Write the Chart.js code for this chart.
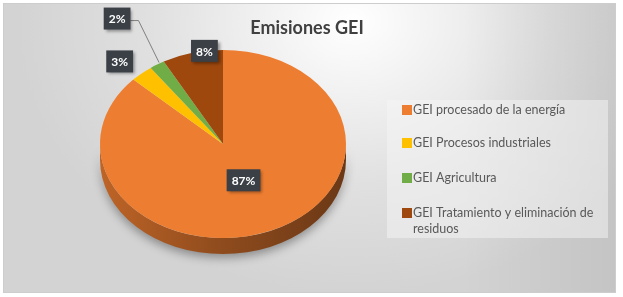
<!DOCTYPE html>
<html>
<head>
<meta charset="utf-8">
<script src="https://cdn.jsdelivr.net/npm/chart.js@4.4.0/dist/chart.umd.min.js"></script>
<style>
  html, body { margin: 0; padding: 0; background: #fff; }
  #marco { position: relative; width: 623px; height: 297px; overflow: hidden; }
  #fondo {
    position: absolute; left: 3px; top: 3px; width: 611px; height: 288px;
    border: 1px solid #cdcdcd;
    background:
      linear-gradient(to right, rgba(0,0,0,0) 75%, rgba(0,0,0,0.07) 100%),
      radial-gradient(ellipse 55% 95% at 57% 6%, #ffffff 0%, #f2f2f2 25%, #e0e0e0 60%, #d3d3d3 100%);
  }
  #grafico { position: absolute; left: 0; top: 0; }
</style>
</head>
<body>
<div id="marco">
  <div id="fondo"></div>
  <canvas id="grafico" width="623" height="297"></canvas>
</div>
<script>
// Datos
const titulo = 'Emisiones GEI';
const categorias = ['GEI procesado de la energía', 'GEI Procesos industriales', 'GEI Agricultura', 'GEI Tratamiento y eliminación de residuos'];
const porcentajes = [87, 3, 2, 8];
const colores = ['#ED7D31', '#FFC000', '#70AD47', '#9E480E'];

// Aspecto 3D
const inclinacion = 0.765;
const profundidad = 16;

// Ubicación de etiquetas: factor radial, ajuste x, ajuste y, línea guía
const ubicacionEtiquetas = [[0.42, 0, 0, false], [1, -22, -12, false], [1, -40, -46, true], [1, 12, -2, false]];

function oscurecer(hex, f) {
    const n = parseInt(hex.slice(1), 16);
    const r = Math.round(((n >> 16) & 255) * f);
    const g = Math.round(((n >> 8) & 255) * f);
    const b = Math.round((n & 255) * f);
    return 'rgb(' + r + ',' + g + ',' + b + ')';
}

function geometria(chart) {
    const arc = chart.getDatasetMeta(0).data[0];
    return { cx: arc.x, cy: arc.y, rx: arc.outerRadius, ry: arc.outerRadius * inclinacion };
}

const pastel3d = {
    id: 'pastel3d',
    beforeDatasetsDraw(chart) {
        // Lateral del pastel (solo la mitad frontal)
        const ctx = chart.ctx;
        const g = geometria(chart);
        chart.getDatasetMeta(0).data.forEach((arc, i) => {
            [-2, 0, 2].forEach(k => {
                const a = Math.max(arc.startAngle, k * Math.PI);
                const b = Math.min(arc.endAngle, k * Math.PI + Math.PI);
                if (b <= a) return;
                ctx.save();
                const grad = ctx.createLinearGradient(g.cx - g.rx, 0, g.cx + g.rx, 0);
                grad.addColorStop(0, oscurecer(colores[i], 0.8));
                grad.addColorStop(0.5, oscurecer(colores[i], 0.6));
                grad.addColorStop(1, oscurecer(colores[i], 0.45));
                ctx.fillStyle = grad;
                ctx.shadowColor = 'rgba(0,0,0,0.35)';
                ctx.shadowBlur = 10;
                ctx.shadowOffsetY = 4;
                ctx.beginPath();
                ctx.ellipse(g.cx, g.cy, g.rx, g.ry, 0, a, b);
                ctx.ellipse(g.cx, g.cy + profundidad, g.rx, g.ry, 0, b, a, true);
                ctx.closePath();
                ctx.fill();
                ctx.restore();
            });
        });
    },
    beforeDatasetDraw(chart) {
        const ctx = chart.ctx;
        const g = geometria(chart);
        ctx.save();
        ctx.translate(g.cx, g.cy);
        ctx.scale(1, inclinacion);
        ctx.translate(-g.cx, -g.cy);
    },
    afterDatasetDraw(chart) {
        chart.ctx.restore();
    },
    afterDatasetsDraw(chart) {
        // Etiquetas de porcentaje
        const ctx = chart.ctx;
        const g = geometria(chart);
        ctx.save();
        ctx.font = 'bold 12px Lato';
        ctx.textAlign = 'center';
        ctx.textBaseline = 'middle';
        chart.getDatasetMeta(0).data.forEach((arc, i) => {
            const [f, dx, dy, linea] = ubicacionEtiquetas[i];
            const mid = (arc.startAngle + arc.endAngle) / 2;
            const ax = g.cx + g.rx * Math.cos(mid);
            const ay = g.cy + g.ry * Math.sin(mid);
            const x = g.cx + f * g.rx * Math.cos(mid) + dx;
            const y = g.cy + f * g.ry * Math.sin(mid) + dy;
            const texto = porcentajes[i] + '%';
            const w = ctx.measureText(texto).width + 10;
            const h = 22;
            if (linea) {
                ctx.strokeStyle = '#7f7f7f';
                ctx.lineWidth = 1;
                ctx.beginPath();
                ctx.moveTo(x + w / 2, y + 2);
                ctx.lineTo(x + w / 2 + 8, y + 2);
                ctx.lineTo(ax + 2, ay - 2);
                ctx.stroke();
            }
            ctx.save();
            ctx.shadowColor = 'rgba(0,0,0,0.4)';
            ctx.shadowBlur = 3;
            ctx.shadowOffsetX = 2;
            ctx.shadowOffsetY = 2;
            ctx.fillStyle = '#3b4046';
            ctx.fillRect(x - w / 2, y - h / 2, w, h);
            ctx.restore();
            ctx.fillStyle = '#ffffff';
            ctx.fillText(texto, x, y + 1);
        });
        ctx.restore();
    },
    afterDraw(chart) {
        const ctx = chart.ctx;
        ctx.save();
        // Título
        ctx.fillStyle = '#404040';
        ctx.font = 'bold 18px Lato';
        ctx.textAlign = 'center';
        ctx.textBaseline = 'middle';
        ctx.fillText(titulo, 307, 28);

        // Leyenda
        ctx.fillStyle = 'rgba(245,245,245,0.5)';
        ctx.fillRect(387, 100, 221, 138);
        const filas = [110, 143, 178, 213];
        ctx.font = '12.5px Lato';
        ctx.textAlign = 'left';
        categorias.forEach((cat, i) => {
            ctx.fillStyle = colores[i];
            ctx.fillRect(402, filas[i] - 5, 10, 10);
            ctx.fillStyle = '#595959';
            // ajuste de líneas
            const palabras = cat.split(' ');
            let linea = '';
            let y = filas[i];
            palabras.forEach(p => {
                const prueba = linea ? linea + ' ' + p : p;
                if (ctx.measureText(prueba).width > 194 && linea) {
                    ctx.fillText(linea, 413, y);
                    linea = p;
                    y += 16;
                } else {
                    linea = prueba;
                }
            });
            ctx.fillText(linea, 413, y);
        });
        ctx.restore();
    }
};

new Chart(document.getElementById('grafico').getContext('2d'), {
    type: 'pie',
    data: {
        labels: categorias,
        datasets: [{
            data: porcentajes,
            backgroundColor: colores,
            borderWidth: 0,
            hoverOffset: 0,
            clip: false
        }]
    },
    options: {
        responsive: false,
        animation: false,
        events: [],
        layout: {
            padding: { left: 100, right: 277, top: 21, bottom: 30 }
        },
        plugins: {
            legend: { display: false },
            title: { display: false },
            tooltip: { enabled: false }
        }
    },
    plugins: [pastel3d]
});
</script>
</body>
</html>
